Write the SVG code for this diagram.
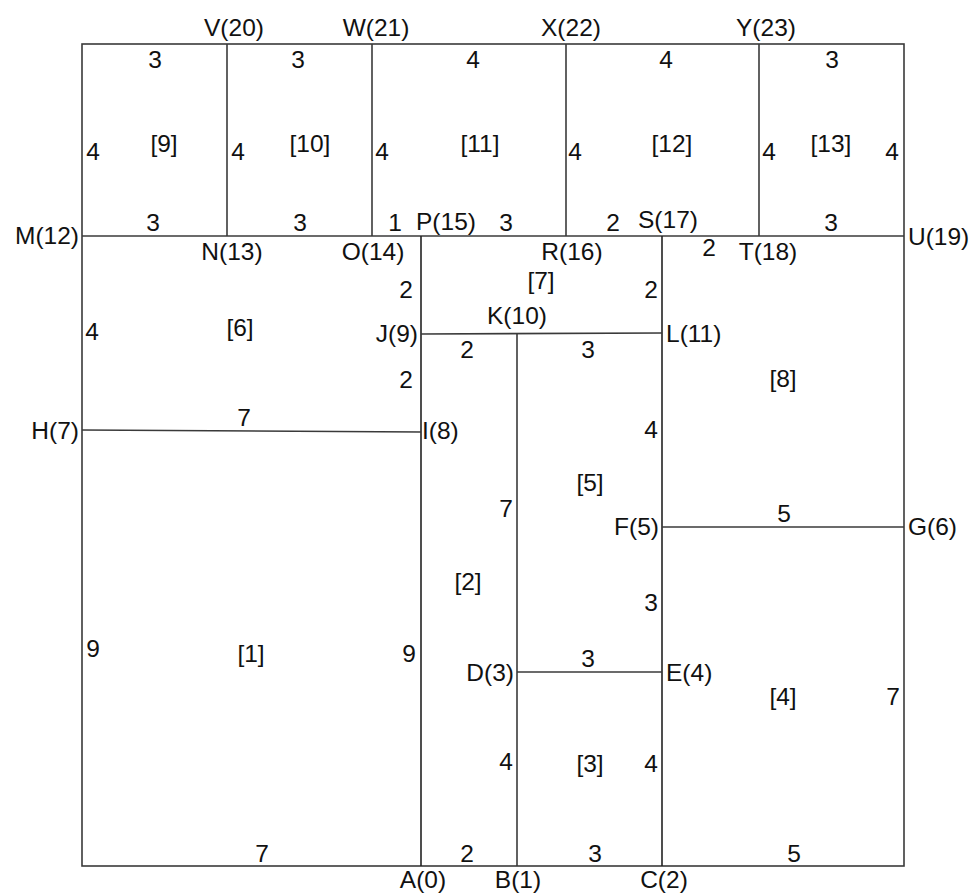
<svg xmlns="http://www.w3.org/2000/svg" width="978" height="895" viewBox="0 0 978 895">
<style>
text{font-family:"Liberation Sans",Arial,sans-serif;font-size:24.5px;fill:#111}
.m{text-anchor:middle}
.e{text-anchor:end}
.ln line,.ln rect{stroke:#3a3a3a;stroke-width:1.6;fill:none}
</style>
<rect width="978" height="895" fill="#fff"/>
<g id="edges" class="ln">
<rect x="82" y="44" width="822" height="822"/>
<line x1="82" y1="236" x2="904" y2="236"/>
<line x1="227" y1="44" x2="227" y2="236"/>
<line x1="372" y1="44" x2="372" y2="236"/>
<line x1="566" y1="44" x2="566" y2="236"/>
<line x1="759" y1="44" x2="759" y2="236"/>
<line x1="421" y1="236" x2="421" y2="866" style="stroke:#222"/>
<line x1="662" y1="236" x2="662" y2="866" style="stroke:#222"/>
<line x1="517" y1="333" x2="517" y2="866"/>
<line x1="82" y1="430" x2="421" y2="432"/>
<line x1="421" y1="334" x2="662" y2="333"/>
<line x1="662" y1="527" x2="904" y2="527"/>
<line x1="517" y1="672" x2="662" y2="672"/>
</g>
<g id="vertices">
<g id="A"><text class="m" x="423" y="888">A(0)</text></g>
<g id="B"><text class="m" x="518" y="888">B(1)</text></g>
<g id="C"><text class="m" x="664" y="888">C(2)</text></g>
<g id="D"><text class="e" x="514" y="681">D(3)</text></g>
<g id="E"><text x="666" y="681">E(4)</text></g>
<g id="F"><text class="e" x="659" y="535">F(5)</text></g>
<g id="G"><text x="908" y="535">G(6)</text></g>
<g id="H"><text class="e" x="79" y="439">H(7)</text></g>
<g id="I"><text x="422" y="439">I(8)</text></g>
<g id="J"><text class="e" x="418" y="342">J(9)</text></g>
<g id="K"><text class="m" x="517" y="324">K(10)</text></g>
<g id="L"><text x="666" y="342">L(11)</text></g>
<g id="M"><text class="e" x="79" y="244">M(12)</text></g>
<g id="N"><text class="m" x="232" y="260">N(13)</text></g>
<g id="O"><text class="m" x="373" y="260">O(14)</text></g>
<g id="P"><text x="416" y="230">P(15)</text></g>
<g id="R"><text class="m" x="572" y="260">R(16)</text></g>
<g id="S"><text class="m" x="668" y="228">S(17)</text></g>
<g id="T"><text class="m" x="768" y="260">T(18)</text></g>
<g id="U"><text x="908" y="245">U(19)</text></g>
<g id="V"><text class="m" x="234" y="36">V(20)</text></g>
<g id="W"><text class="m" x="376" y="36">W(21)</text></g>
<g id="X"><text class="m" x="571" y="36">X(22)</text></g>
<g id="Y"><text class="m" x="766" y="36">Y(23)</text></g>
</g>
<g id="regions">
<g id="r1"><text class="m" x="251" y="662">[1]</text></g>
<g id="r2"><text class="m" x="468" y="590">[2]</text></g>
<g id="r3"><text class="m" x="590" y="772">[3]</text></g>
<g id="r4"><text class="m" x="783" y="705">[4]</text></g>
<g id="r5"><text class="m" x="590" y="491">[5]</text></g>
<g id="r6"><text class="m" x="240" y="336">[6]</text></g>
<g id="r7"><text class="m" x="541" y="289">[7]</text></g>
<g id="r8"><text class="m" x="783" y="387">[8]</text></g>
<g id="r9"><text class="m" x="164" y="152">[9]</text></g>
<g id="r10"><text class="m" x="310" y="152">[10]</text></g>
<g id="r11"><text class="m" x="480" y="152">[11]</text></g>
<g id="r12"><text class="m" x="672" y="152">[12]</text></g>
<g id="r13"><text class="m" x="831" y="152">[13]</text></g>
</g>
<g id="lengths">
<text class="m" x="155" y="68">3</text>
<text class="m" x="298" y="68">3</text>
<text class="m" x="473" y="68">4</text>
<text class="m" x="666" y="68">4</text>
<text class="m" x="832" y="68">3</text>
<text class="m" x="93" y="160">4</text>
<text class="m" x="238" y="160">4</text>
<text class="m" x="382" y="160">4</text>
<text class="m" x="575" y="160">4</text>
<text class="m" x="769" y="160">4</text>
<text class="m" x="892" y="160">4</text>
<text class="m" x="153" y="231">3</text>
<text class="m" x="300" y="231">3</text>
<text class="m" x="395" y="231">1</text>
<text class="m" x="506" y="231">3</text>
<text class="m" x="613" y="231">2</text>
<text class="m" x="831" y="231">3</text>
<text class="m" x="709" y="256">2</text>
<text class="m" x="406" y="298">2</text>
<text class="m" x="651" y="298">2</text>
<text class="m" x="92" y="340">4</text>
<text class="m" x="467" y="358">2</text>
<text class="m" x="588" y="358">3</text>
<text class="m" x="406" y="388">2</text>
<text class="m" x="244" y="426">7</text>
<text class="m" x="651" y="438">4</text>
<text class="m" x="506" y="517">7</text>
<text class="m" x="784" y="522">5</text>
<text class="m" x="651" y="611">3</text>
<text class="m" x="93" y="657">9</text>
<text class="m" x="409" y="662">9</text>
<text class="m" x="588" y="667">3</text>
<text class="m" x="893" y="705">7</text>
<text class="m" x="506" y="770">4</text>
<text class="m" x="651" y="772">4</text>
<text class="m" x="262" y="862">7</text>
<text class="m" x="467" y="862">2</text>
<text class="m" x="595" y="862">3</text>
<text class="m" x="794" y="862">5</text>
</g>
</svg>
